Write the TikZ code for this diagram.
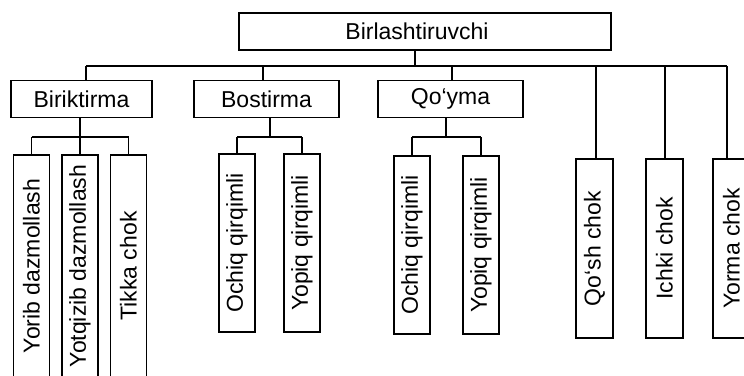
\documentclass[tikz,border=0pt]{standalone}
\usepackage{fontspec}
\setmainfont{Liberation Sans}
\begin{document}
\begin{tikzpicture}[x=1pt,y=-1pt,
  box/.style={draw=black, line width=1.9pt, fill=white, inner sep=0pt,
    font=\fontsize{23}{27}\selectfont},
  hbox/.style={box, minimum height=37pt},
  vbox/.style={box, rotate=90, minimum height=36pt},
  link/.style={draw=black, line width=1.2pt},
  stem/.style={draw=black, line width=1.9pt}]
\useasboundingbox (0,0) rectangle (744,375);
\clip (0,0) rectangle (744,375);

% bus coordinates
\coordinate (bus)  at (86,66);
\coordinate (busE) at (727,66);
\coordinate (jTop) at (415,66);
\coordinate (jBos) at (263,66);
\coordinate (jQoy) at (452,66);
\coordinate (jQsh) at (596,66);
\coordinate (jIch) at (665,66);
\coordinate (jYor) at (727,66);

% root
\node[hbox, minimum width=372pt] (root) at (425,31.5) {Birlashtiruvchi\hspace*{16pt}};

% second level
\node[hbox, minimum width=141pt] (bir) at (81.5,99) {Biriktirma};
\node[hbox, minimum width=145pt] (bos) at (266.5,99) {Bostirma};
\node[hbox, minimum width=145pt] (qoy) at (450.5,99) {Qo‘yma};

% third level under Biriktirma
\node[vbox, minimum width=222pt] (yorib) at (31.5,266) {Yorib dazmollash};
\node[vbox, minimum width=222pt] (yotq)  at (80,266)   {Yotqizib dazmollash};
\node[vbox, minimum width=222pt] (tikka) at (128.5,266) {Tikka chok};

% third level under Bostirma
\node[vbox, minimum width=178pt] (bosO) at (237,243) {Ochiq qirqimli};
\node[vbox, minimum width=178pt] (bosY) at (302,243) {Yopiq qirqimli};

% third level under Qo'yma
\node[vbox, minimum width=178pt] (qoyO) at (412,245) {Ochiq qirqimli};
\node[vbox, minimum width=178pt] (qoyY) at (481,245) {Yopiq qirqimli};

% stand-alone seams
\node[vbox, minimum width=179pt, minimum height=37pt] (qosh)  at (594.5,248.5) {Qo‘sh chok};
\node[vbox, minimum width=179pt, minimum height=37pt] (ichki) at (664.5,248.5) {Ichki chok};
\node[vbox, minimum width=179pt, minimum height=37pt] (yorma) at (731.5,248.5) {Yorma chok};

% main bus
\draw[link] (bus) -- (busE);
\draw[stem] (jTop |- root.south) -- (jTop);
\draw[link] (bus) -- (bus |- bir.north);
\draw[link] (jBos) -- (jBos |- bos.north);
\draw[stem] (jQoy) -- (jQoy |- qoy.north);
\draw[stem] (jQsh) -- (jQsh |- qosh.east);
\draw[stem] (jIch) -- (jIch |- ichki.east);
\draw[stem] (jYor) -- (jYor |- yorma.east);

% Biriktirma branch
\coordinate (bBus) at (80,137);
\draw[stem] (bBus |- bir.south) -- (bBus);
\draw[link] (yorib.east |- bBus) -- (tikka.east |- bBus);
\draw[link] (yorib.east |- bBus) -- (yorib.east);
\draw[link] (yotq.east |- bBus) -- (yotq.east);
\draw[link] (tikka.east |- bBus) -- (tikka.east);

% Bostirma branch
\coordinate (sBus) at (270,137);
\draw[stem] (sBus |- bos.south) -- (sBus);
\draw[link] (bosO.east |- sBus) -- (bosY.east |- sBus);
\draw[link] (bosO.east |- sBus) -- (bosO.east);
\draw[link] (bosY.east |- sBus) -- (bosY.east);

% Qo'yma branch
\coordinate (qBus) at (446,137);
\draw[link] (qBus |- qoy.south) -- (qBus);
\draw[link] (qoyO.east |- qBus) -- (qoyY.east |- qBus);
\draw[link] (qoyO.east |- qBus) -- (qoyO.east);
\draw[link] (qoyY.east |- qBus) -- (qoyY.east);
\end{tikzpicture}
\end{document}
